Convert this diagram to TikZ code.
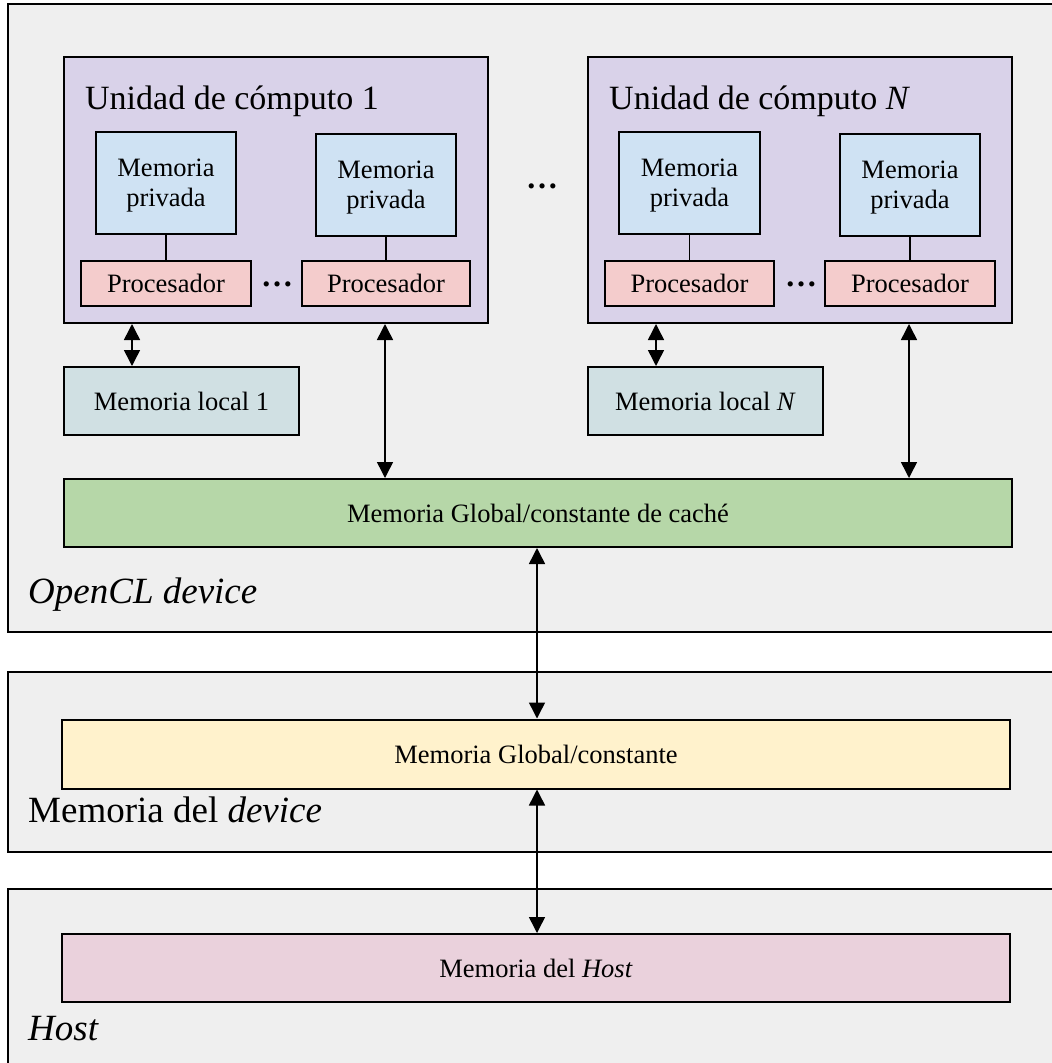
\documentclass[tikz,border=0pt]{standalone}
\usepackage{fontspec}
\setmainfont{Liberation Serif}
\usetikzlibrary{arrows.meta,fit}

\definecolor{panelgray}{HTML}{EFEFEF}
\definecolor{cufill}{HTML}{D9D2E9}
\definecolor{privfill}{HTML}{CFE2F3}
\definecolor{procfill}{HTML}{F4CCCC}
\definecolor{localfill}{HTML}{D0E0E3}
\definecolor{cachefill}{HTML}{B6D7A8}
\definecolor{globfill}{HTML}{FFF2CC}
\definecolor{hostfill}{HTML}{EAD1DC}

\tikzset{
  panel/.style={draw=black, line width=2pt, fill=panelgray, inner sep=0pt},
  box/.style={draw=black, line width=2pt, inner sep=0pt, align=center},
  sz/.style n args={2}{minimum width=#1, minimum height=#2},
  small/.style={font=\fontsize{26.5}{30}\selectfont},
  big/.style={font=\fontsize{34}{40}\selectfont},
  dotsfont/.style={font=\fontsize{32}{36}\bfseries\selectfont, inner sep=0pt},
  label/.style={font=\fontsize{37}{42}\selectfont, anchor=base west, inner sep=0pt},
  link/.style={line width=1.5pt},
  dbl/.style={line width=1.5pt, {Triangle[length=16pt,width=16pt]}-{Triangle[length=16pt,width=16pt]}},
}

\begin{document}
\begin{tikzpicture}[x=1pt,y=-1pt]
\useasboundingbox (0,0) rectangle (1052,1063);
\clip (0,0) rectangle (1052,1063);

% outer panels
\node[panel, fit={(8,4) (1070,632)}] (dev) {};
\node[panel, fit={(8,672) (1070,852)}] (devmem) {};
\node[panel, fit={(8,889) (1070,1080)}] (hostp) {};

\node[label] (devlbl) at (28,603) {\itshape OpenCL device};
\node[label] (devmemlbl) at (28,822) {Memoria del \textit{device}};
\node[label] (hostlbl) at (28,1040) {\textit{Host}};

% compute unit 1
\node[box, fill=cufill, sz={424pt}{266pt}] (cu1) at (276,190) {};
\node[big, anchor=base west, inner sep=0pt] (cu1t) at (85,109) {Unidad de cómputo 1};
\node[box, small, fill=privfill, sz={140pt}{102pt}] (mp1a) at (166,183) {\rule{0pt}{22pt}Memoria\\privada};
\node[box, small, fill=privfill, sz={140pt}{102pt}] (mp1b) at (386,185) {\rule{0pt}{22pt}Memoria\\privada};
\node[box, small, fill=procfill, sz={170pt}{45pt}] (pr1a) at (166,283.5) {Procesador};
\node[box, small, fill=procfill, sz={168pt}{45pt}] (pr1b) at (386,283.5) {Procesador};
\node[dotsfont] (dots1) at (277,284) {\ldots};
\draw[link] (mp1a.south) -- (pr1a.north);
\draw[link] (mp1b.south) -- (pr1b.north);

% compute unit N
\node[box, fill=cufill, sz={424pt}{266pt}] (cun) at (800,190) {};
\node[big, anchor=base west, inner sep=0pt] (cunt) at (609,109) {Unidad de cómputo \textit{N}};
\node[box, small, fill=privfill, sz={141pt}{102pt}] (mpna) at (689.5,183) {\rule{0pt}{22pt}Memoria\\privada};
\node[box, small, fill=privfill, sz={140pt}{102pt}] (mpnb) at (910,185) {\rule{0pt}{22pt}Memoria\\privada};
\node[box, small, fill=procfill, sz={169pt}{45pt}] (prna) at (689.5,283.5) {Procesador};
\node[box, small, fill=procfill, sz={170pt}{45pt}] (prnb) at (910,283.5) {Procesador};
\node[dotsfont] (dotsn) at (801,284) {\ldots};
\draw[link] (mpna.south) -- (prna.north);
\draw[link] (mpnb.south) -- (prnb.north);

\node[dotsfont] (dotscu) at (542,186) {\ldots};

% local memories
\node[box, small, fill=localfill, sz={235pt}{68pt}] (ml1) at (181.5,401) {Memoria local 1};
\node[box, small, fill=localfill, sz={235pt}{68pt}] (mln) at (705.5,401) {Memoria local \textit{N}};

% global memories
\node[box, small, fill=cachefill, sz={948pt}{68pt}] (cache) at (538,513) {Memoria Global/constante de caché};
\node[box, small, fill=globfill, sz={948pt}{69pt}] (gmem) at (536,754) {Memoria Global/constante};
\node[box, small, fill=hostfill, sz={948pt}{68pt}] (hmem) at (536,968) {Memoria del \textit{Host}};

% connections
\draw[dbl] ([xshift=69pt]cu1.south west) -- ([xshift=69pt]ml1.north west);
\draw[dbl] ([xshift=69pt]cun.south west) -- ([xshift=69pt]mln.north west);
\draw[dbl] ([xshift=322pt]cu1.south west) -- ([xshift=322pt]cache.north west);
\draw[dbl] ([xshift=322pt]cun.south west) -- ([xshift=846pt]cache.north west);
\draw[dbl] ([xshift=-1pt]cache.south) -- ([xshift=-1pt]gmem.north -| cache.south);
\draw[dbl] ([xshift=1pt]gmem.south) -- ([xshift=1pt]hmem.north -| gmem.south);
\end{tikzpicture}
\end{document}
